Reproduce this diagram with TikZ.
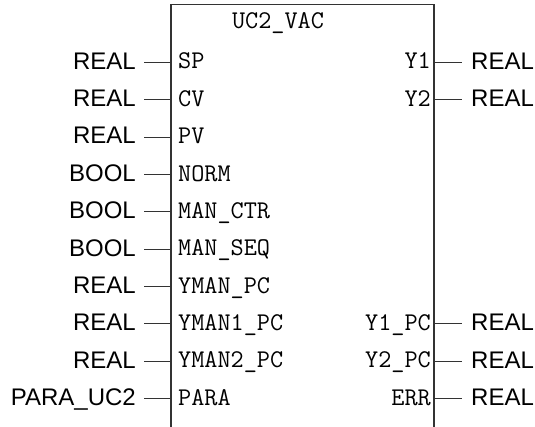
\documentclass[tikz,border=0pt]{standalone}
\usepackage{fontspec}
\setmainfont{Liberation Sans}
\usetikzlibrary{positioning}

\tikzset{
  pinline/.style={draw=black!80, line width=0.9pt},
  typelabel/.style={font=\fontsize{24}{27}\selectfont, inner sep=0pt},
  portlabel/.style={font=\ttfamily\fontsize{25.5}{28}\selectfont, inner sep=0pt},
}

\begin{document}
\begin{tikzpicture}[x=1pt,y=-1pt]
    \useasboundingbox (0,0) rectangle (535,427);

    % block outline, open at the bottom
    \coordinate (bl) at (171,427);
    \coordinate (tl) at (171,4.5);
    \coordinate (tr) at (434,4.5);
    \coordinate (br) at (434,427);
    \draw[black!80, line width=1.3pt] (bl) -- (tl) -- (tr) -- (br);
    \node[portlabel, anchor=base] (title) at (278,29) {UC2\_VAC};

    % inputs
    \foreach \i/\name/\type in {1/SP/REAL, 2/CV/REAL, 3/PV/REAL, 4/NORM/BOOL,
                                5/MAN\_CTR/BOOL, 6/MAN\_SEQ/BOOL, 7/YMAN\_PC/REAL,
                                8/YMAN1\_PC/REAL, 9/YMAN2\_PC/REAL, 10/PARA/PARA\_UC2} {
      \pgfmathsetmacro\y{62.5+(\i-1)*37.35}
      \coordinate (in\i) at (171,\y);
      \coordinate (in\i w) at (144,\y);
      \node[typelabel, anchor=base east] (tin\i) at ([xshift=-8pt, yshift=-6.8pt]in\i w) {\type};
      \node[portlabel, anchor=base west] (pin\i) at ([xshift=7pt, yshift=-6.5pt]in\i) {\name};
      \draw[pinline] (in\i w) -- (in\i);
    }

    % outputs
    \foreach \i/\name/\type in {1/Y1/REAL, 2/Y2/REAL, 8/Y1\_PC/REAL,
                                9/Y2\_PC/REAL, 10/ERR/REAL} {
      \pgfmathsetmacro\y{62.5+(\i-1)*37.35}
      \coordinate (out\i) at (434,\y);
      \coordinate (out\i e) at (462,\y);
      \node[typelabel, anchor=base west] (tout\i) at ([xshift=9pt, yshift=-6.8pt]out\i e) {\type};
      \node[portlabel, anchor=base east] (pout\i) at ([xshift=-3pt, yshift=-6.5pt]out\i) {\name};
      \draw[pinline] (out\i) -- (out\i e);
    }
\end{tikzpicture}
\end{document}
